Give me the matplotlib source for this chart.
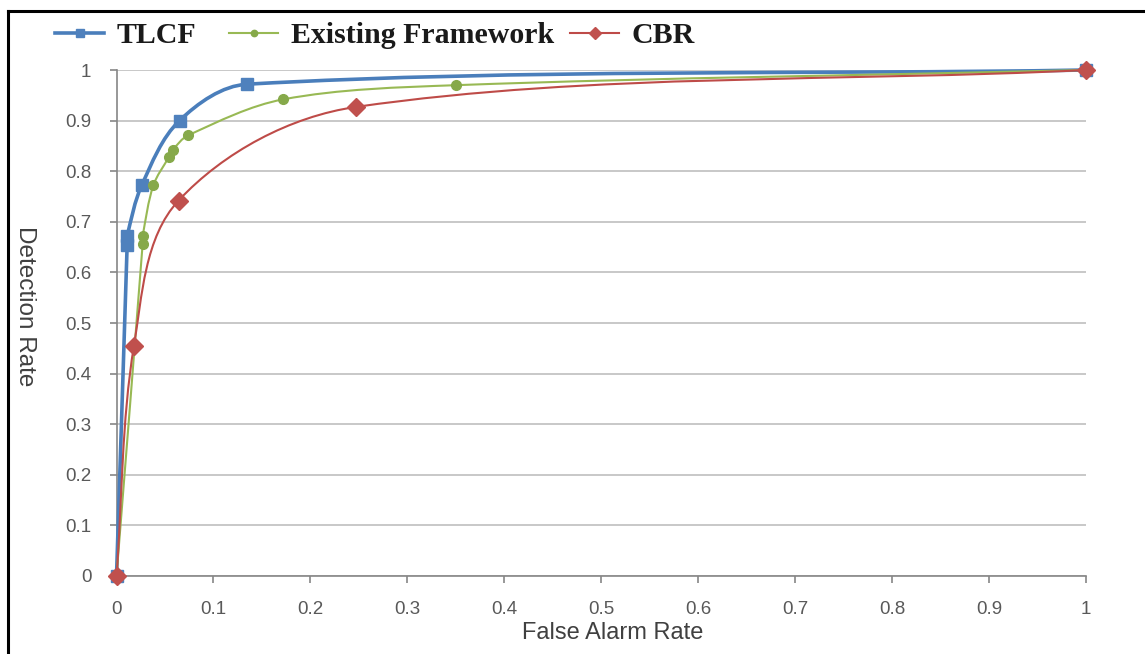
import numpy as np
import matplotlib
matplotlib.use("Agg")
import matplotlib.pyplot as plt
from matplotlib.path import Path
from matplotlib.patches import PathPatch
from matplotlib.lines import Line2D

# ---- data ----
tlcf_x = [0.0, 0.011, 0.011, 0.026, 0.065, 0.135, 1.0]
tlcf_y = [0.0, 0.655, 0.672, 0.772, 0.900, 0.972, 1.0]
exist_x = [0.0, 0.027, 0.027, 0.038, 0.054, 0.058, 0.074, 0.172, 0.350, 1.0]
exist_y = [0.0, 0.657, 0.672, 0.772, 0.828, 0.842, 0.871, 0.942, 0.970, 1.0]
cbr_x = [0.0, 0.018, 0.064, 0.247, 1.0]
cbr_y = [0.0, 0.455, 0.742, 0.927, 1.0]
series_names = ["TLCF", "Existing Framework", "CBR"]
tick_vals = [0.0, 0.1, 0.2, 0.3, 0.4, 0.5, 0.6, 0.7, 0.8, 0.9, 1.0]
tick_labels = ["0", "0.1", "0.2", "0.3", "0.4", "0.5", "0.6", "0.7", "0.8", "0.9", "1"]

W, H = 1145, 654
fig = plt.figure(figsize=(W / 100, H / 100), dpi=100)
ax = fig.add_axes([116.5 / W, 1 - 576 / H, (1086 - 116.5) / W, (576 - 70) / H])
ax.set_xlim(0, 1)
ax.set_ylim(0, 1)
fig.canvas.draw()

def smooth_path(xs, ys):
    # smoothing done in display space, then mapped back to data coordinates
    D = ax.transData.transform(np.column_stack([xs, ys]).astype(float))
    n = len(D)
    tang = []
    for i in range(n):
        a = D[max(i - 1, 0)]
        b = D[min(i + 1, n - 1)]
        d = b - a
        nrm = np.hypot(*d)
        tang.append(d / nrm if nrm > 0 else np.zeros(2))
    verts = [D[0]]
    codes = [Path.MOVETO]
    for i in range(n - 1):
        L = np.hypot(*(D[i + 1] - D[i]))
        c1 = D[i] + tang[i] * L * 0.33
        c2 = D[i + 1] - tang[i + 1] * L * 0.33
        verts += [c1, c2, D[i + 1]]
        codes += [Path.CURVE4] * 3
    V = ax.transData.inverted().transform(np.array(verts))
    return Path(V, codes)

styles = [
    (tlcf_x, tlcf_y, "#4A7EBB", "#4F81BD", "s", 8, 2.6),
    (exist_x, exist_y, "#98B954", "#86A94A", "o", 7, 1.5),
    (cbr_x, cbr_y, "#BE4B48", "#C0504D", "D", 9, 1.5),
]
handles = []
for (xs, ys, lc, mc, mk, ms, lw), name in zip(styles, series_names):
    patch = PathPatch(smooth_path(xs, ys), facecolor="none", edgecolor=lc,
                      lw=lw, transform=ax.transData, zorder=3, clip_on=False)
    ax.add_patch(patch)
    ax.plot(xs, ys, linestyle="none", marker=mk, markersize=ms, color=mc,
            markeredgecolor=mc, zorder=4, clip_on=False)
    handles.append(Line2D([], [], color=lc, lw=lw, marker=mk,
                          markersize=ms * 0.65, markerfacecolor=mc, markeredgecolor=mc))

ax.set_xticks(tick_vals)
ax.set_xticklabels(tick_labels)
ax.set_yticks(tick_vals)
ax.set_yticklabels(tick_labels)

grid_c = "#BFBFBF"
axis_c = "#868686"
ax.yaxis.grid(True, color=grid_c, lw=1.2)
ax.xaxis.grid(False)
ax.set_axisbelow(True)
for s in ["top", "right"]:
    ax.spines[s].set_visible(False)
for s in ["left", "bottom"]:
    ax.spines[s].set_color(axis_c)
    ax.spines[s].set_linewidth(1.2)

ax.tick_params(axis="both", colors=axis_c, length=5, width=1.2, direction="out",
               labelcolor="#595959")
ax.tick_params(axis="x", pad=13)
ax.tick_params(axis="y", pad=13)
for lab in ax.get_xticklabels() + ax.get_yticklabels():
    lab.set_fontfamily("Liberation Sans")
    lab.set_fontsize(13.5)

ax.set_xlabel("False Alarm Rate", family="Liberation Sans", fontsize=17,
              color="#404040", va="center", ha="center")
ax.xaxis.set_label_coords((613 - 116.5) / 969.5, (576 - 633) / 506)
ax.set_ylabel("Detection Rate", family="Liberation Sans", fontsize=17.5,
              color="#404040", rotation=-90, va="center", ha="center")
ax.yaxis.set_label_coords((25 - 116.5) / 969.5, (576 - 306) / 506)

# legends placed individually
leg_pos = [55, 229, 570]
for h, name, xp in zip(handles, series_names, leg_pos):
    leg = fig.legend([h], [name], loc="center left",
                     bbox_to_anchor=(xp / W, 1 - 35.5 / H), frameon=False,
                     borderpad=0, borderaxespad=0, handlelength=1.65,
                     handletextpad=0.42,
                     prop=dict(family="Liberation Serif", weight="bold", size=21.5))
    for t in leg.get_texts():
        t.set_color("#1A1A1A")

# figure border lines (top and left)
fig.add_artist(Line2D([8 / W, 1], [1 - 11 / H, 1 - 11 / H], color="black", lw=2.2,
                      transform=fig.transFigure))
fig.add_artist(Line2D([8 / W, 8 / W], [0, 1 - 11 / H], color="black", lw=2.2,
                      transform=fig.transFigure))

fig.savefig("out.png", dpi=100, facecolor="white")
